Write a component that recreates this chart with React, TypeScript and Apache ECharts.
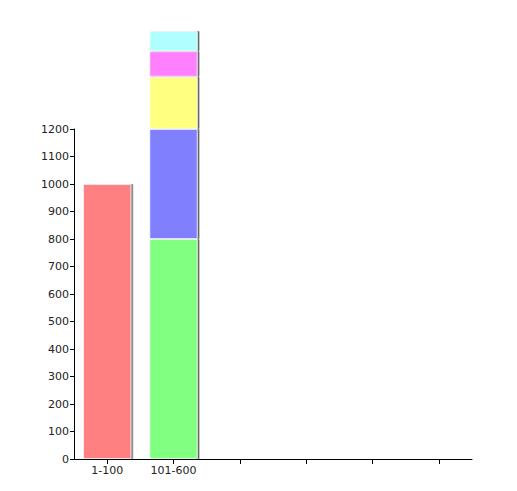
import React, { useEffect, useRef } from "react";
import * as echarts from "echarts";

// categories on the x axis (only the first two are labelled)
const categories = ["1-100", "101-600", "", "", "", ""];

// stacked series values, one per category
const redValues = [1000, null, null, null, null, null];
const greenValues = [null, 800, null, null, null, null];
const blueValues = [null, 400, null, null, null, null];
const yellowValues = [null, 190, null, null, null, null];
const magentaValues = [null, 93, null, null, null, null];
const cyanValues = [null, 73, null, null, null, null];

const seriesDefs = [
  { name: "A", data: redValues, color: "#ff8080" },
  { name: "B", data: greenValues, color: "#80ff80" },
  { name: "C", data: blueValues, color: "#8080ff" },
  { name: "D", data: yellowValues, color: "#ffff80" },
  { name: "E", data: magentaValues, color: "#ff80ff" },
  { name: "F", data: cyanValues, color: "#b0ffff" },
];

const App: React.FC = () => {
  const chartRef = useRef<HTMLDivElement>(null);

  useEffect(() => {
    if (!chartRef.current) return;
    const myChart = echarts.init(chartRef.current, undefined, { renderer: "svg" });

    const labelFont = {
      fontFamily: "DejaVu Sans",
      fontSize: 11,
      color: "#222",
    };

    const option: echarts.EChartsOption = {
      animation: false,
      backgroundColor: "#ffffff",
      grid: { left: 74, right: 45, top: 129, bottom: 32 },
      xAxis: {
        type: "category",
        data: categories,
        axisLine: { lineStyle: { color: "#000", width: 1 } },
        axisTick: {
          show: true,
          alignWithLabel: true,
          interval: 0,
          length: 5,
          lineStyle: { color: "#000" },
        },
        axisLabel: { ...labelFont, interval: 0, margin: 6 },
        splitLine: { show: false },
      },
      yAxis: {
        type: "value",
        min: 0,
        max: 1200,
        interval: 100,
        axisLine: { show: true, lineStyle: { color: "#000", width: 1 } },
        axisTick: { show: true, length: 4, lineStyle: { color: "#000" } },
        axisLabel: {
          ...labelFont,
          margin: 5,
          formatter: (v: number) => String(v),
        },
        splitLine: { show: false },
      },
      series: seriesDefs.map((s) => ({
        name: s.name,
        type: "bar",
        stack: "total",
        barWidth: "73%",
        clip: false,
        data: s.data,
        itemStyle: {
          color: s.color,
          borderColor: "rgba(255,255,255,0.7)",
          borderWidth: 1,
          shadowColor: "rgba(0,0,0,0.75)",
          shadowOffsetX: 1.5,
          shadowOffsetY: 0,
          shadowBlur: 0,
        },
      })),
    };

    myChart.setOption(option);

    return () => {
      myChart.dispose();
    };
  }, []);

  return (
    <div
      ref={chartRef}
      style={{
        position: "fixed",
        left: 0,
        top: 0,
        width: "517px",
        height: "491px",
        margin: 0,
        padding: 0,
      }}
    />
  );
};

export default App;
